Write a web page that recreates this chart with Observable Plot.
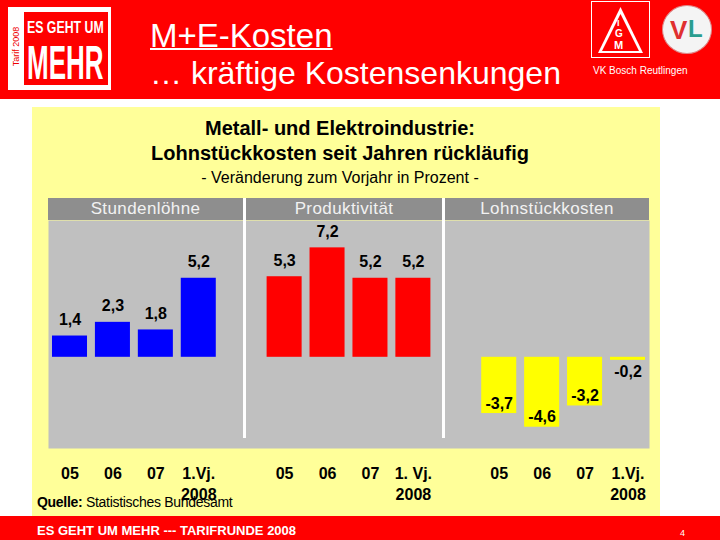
<!DOCTYPE html>
<html><head><meta charset="utf-8">
<script src="https://cdn.jsdelivr.net/npm/d3@7"></script>
<script src="https://cdn.jsdelivr.net/npm/@observablehq/plot@0.6"></script>
<style>
body{margin:0;background:#fff;font-family:"Liberation Sans",Arial,sans-serif;}
#page{position:relative;width:720px;height:540px;overflow:hidden;background:#fff;}
.a{position:absolute;white-space:nowrap;}
#chart{position:absolute;left:0;top:198px;z-index:1;}
.strip{position:absolute;top:198px;height:22px;background:#8e8e8e;color:#f2f2f2;font-size:17px;line-height:22px;text-align:center;letter-spacing:0.4px;z-index:2;}
.sep{position:absolute;top:198px;height:240px;width:3px;background:#fff;z-index:3;}
</style></head><body><div id="page">
<!-- header -->
<div class="a" style="left:0;top:0;width:720px;height:99px;background:#ff0000;"></div>
<div class="a" style="left:8px;top:7px;width:103px;height:83px;background:#fff;"></div>
<div class="a" style="left:24px;top:12px;width:84px;height:73px;background:#ff0000;"></div>
<div class="a" style="left:-6px;top:42px;width:44px;font-size:9px;line-height:9px;color:#e00;transform:rotate(-90deg);text-align:center;">Tarif 2008</div>
<div class="a" style="left:27px;top:20px;font-size:16px;line-height:16px;font-weight:bold;color:#fff;transform:scaleX(0.77);transform-origin:0 0;">ES GEHT UM</div>
<div class="a" style="left:27px;top:42px;font-size:49px;line-height:40px;font-weight:bold;color:#fff;transform:scaleX(0.53);transform-origin:0 0;">MEHR</div>
<div class="a" style="left:150px;top:20px;font-size:33px;line-height:32px;color:#fff;text-decoration:underline;text-decoration-thickness:2px;">M+E-Kosten</div>
<div class="a" style="left:150px;top:57px;font-size:32px;line-height:32px;color:#fff;">… kräftige Kostensenkungen</div>
<div class="a" style="left:591px;top:1px;width:57px;height:55px;background:#ff0000;border:1px solid #fff;"></div>
<div class="a" style="left:598px;top:7px;width:45px;height:46px;background:#fff;clip-path:polygon(50% 0,100% 100%,0 100%);"></div>
<div class="a" style="left:602px;top:14px;width:37px;height:37px;background:#ff0000;clip-path:polygon(50% 0,100% 100%,0 100%);"></div>
<div class="a" style="left:617px;top:19px;font-size:9px;line-height:9px;font-weight:bold;color:#fff;">I</div>
<div class="a" style="left:615px;top:29px;font-size:10px;line-height:10px;font-weight:bold;color:#fff;">G</div>
<div class="a" style="left:614px;top:40px;font-size:11px;line-height:11px;font-weight:bold;color:#fff;">M</div>
<div class="a" style="left:662px;top:5px;width:48px;height:47px;border-radius:50%;background:#f4f4f4;border:1px solid #d88;"></div>
<div class="a" style="left:670px;top:17px;font-size:26px;line-height:26px;font-weight:bold;color:#e03030;">V</div>
<div class="a" style="left:688px;top:17px;font-size:24px;line-height:24px;font-weight:bold;color:#2a9d8f;">L</div>
<div class="a" style="left:593px;top:66px;font-size:10px;line-height:10px;color:#fff;">VK Bosch Reutlingen</div>
<!-- panel -->
<div class="a" style="left:32px;top:107px;width:628px;height:409px;background:#ffff99;"></div>
<div class="a" style="left:32px;top:118px;width:616px;text-align:center;font-size:20px;line-height:20px;font-weight:bold;color:#000;">Metall- und Elektroindustrie:</div>
<div class="a" style="left:32px;top:143px;width:616px;text-align:center;font-size:20px;line-height:20px;font-weight:bold;color:#000;">Lohnstückkosten seit Jahren rückläufig</div>
<div class="a" style="left:32px;top:170px;width:616px;text-align:center;font-size:16px;line-height:16px;color:#000;">- Veränderung zum Vorjahr in Prozent -</div>
<div id="strips"></div>
<div id="chart"></div>
<div class="sep" style="left:243px;"></div>
<div class="sep" style="left:442px;"></div>
<div class="a" style="left:37px;top:495px;font-size:14px;line-height:14px;color:#000;letter-spacing:-0.3px;z-index:4;"><b>Quelle:</b> Statistisches Bundesamt</div>
<!-- footer -->
<div class="a" style="left:0;top:516px;width:720px;height:24px;background:#ff0000;"></div>
<div class="a" style="left:37px;top:524px;font-size:13px;line-height:13px;font-weight:bold;color:#fff;">ES GEHT UM MEHR --- TARIFRUNDE 2008</div>
<div class="a" style="left:680px;top:529px;font-size:9px;line-height:9px;color:#fff;">4</div>
</div>
<script>
const groups = ["Stundenlöhne", "Produktivität", "Lohnstückkosten"];
const periods = ["2005", "2006", "2007", "2008Q1"];
const tickLabels = [
  ["05", "06", "07", "1.Vj.\n2008"],
  ["05", "06", "07", "1. Vj.\n2008"],
  ["05", "06", "07", "1.Vj.\n2008"]
];
const stundenloehne = [1.4, 2.3, 1.8, 5.2];
const produktivitaet = [5.3, 7.2, 5.2, 5.2];
const lohnstueckkosten = [-3.7, -4.6, -3.2, -0.2];
const groupColors = ["#0000ff", "#ff0000", "#ffff00"];

const series = [stundenloehne, produktivitaet, lohnstueckkosten];
const data = [];
const domain = [];
const labelOf = new Map();
groups.forEach((g, gi) => {
  if (gi > 0) { const gap = "gap" + gi; domain.push(gap); labelOf.set(gap, ""); }
  periods.forEach((p, pi) => {
    const key = g + "|" + p;
    domain.push(key);
    labelOf.set(key, tickLabels[gi][pi]);
    data.push({key, group: g, value: series[gi][pi]});
  });
});
const fmt = v => v.toFixed(1).replace(".", ",");

// facet header strips
const stripBounds = [[48, 243], [246, 442], [445, 649]];
const stripsEl = document.getElementById("strips");
groups.forEach((g, i) => {
  const d = document.createElement("div");
  d.className = "strip";
  d.style.left = stripBounds[i][0] + "px";
  d.style.width = (stripBounds[i][1] - stripBounds[i][0]) + "px";
  d.textContent = g;
  stripsEl.appendChild(d);
});

const chart = Plot.plot({
  width: 720, height: 307,
  marginTop: 22, marginBottom: 57, marginLeft: 48, marginRight: 71,
  style: {background: "transparent", fontFamily: "Liberation Sans, Arial, sans-serif", color: "#000", overflow: "visible"},
  x: {type: "band", domain, paddingInner: 0.184, paddingOuter: 0.093, round: false},
  y: {domain: [-6, 9], axis: null},
  color: {domain: groups, range: groupColors},
  marks: [
    Plot.frame({fill: "#c0c0c0", stroke: "none"}),
    Plot.barY(data, {x: "key", y: "value", fill: "group"}),
    Plot.text(data.filter(d => d.value > 0), {x: "key", y: "value", text: d => fmt(d.value), dy: -16, fontSize: 16, fontWeight: "bold", fill: "#000"}),
    Plot.text(data.filter(d => d.value <= -1), {x: "key", y: "value", text: d => fmt(d.value), dy: -10, fontSize: 16, fontWeight: "bold", fill: "#000"}),
    Plot.text(data.filter(d => d.value < 0 && d.value > -1), {x: "key", y: "value", text: d => fmt(d.value), dy: 12, fontSize: 16, fontWeight: "bold", fill: "#000"}),
    Plot.axisX({tickSize: 0, tickPadding: 15, tickFormat: k => labelOf.get(k), fontSize: 16, fontWeight: "bold", lineHeight: 1.35, label: null})
  ]
});
document.getElementById("chart").appendChild(chart);
</script>
</body></html>
